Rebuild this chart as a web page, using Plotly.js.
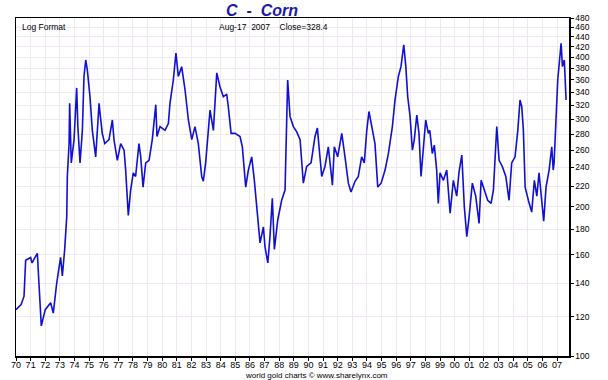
<!DOCTYPE html>
<html>
<head>
<meta charset="utf-8">
<script src="https://cdn.plot.ly/plotly-3.0.1.min.js"></script>
<style>html,body{margin:0;padding:0;background:#fff;}#chart{width:608px;height:380px;}</style>
</head>
<body>
<div id="chart"></div>
<script>
// Decimal year of each reading
const years = [
1970.00,1970.35,1970.55,1970.66,1971.00,1971.10,1971.30,1971.46,1971.57,1971.73,
1972.00,1972.37,1972.55,1972.78,1973.05,1973.17,1973.33,1973.47,1973.51,1973.63,
1973.67,1973.78,1973.97,1974.15,1974.23,1974.38,1974.54,1974.65,1974.77,1974.88,
1975.06,1975.22,1975.45,1975.68,1975.75,1975.90,1976.07,1976.36,1976.59,1976.70,
1976.93,1977.16,1977.39,1977.50,1977.68,1977.84,1978.02,1978.18,1978.41,1978.53,
1978.69,1978.87,1979.10,1979.32,1979.56,1979.64,1979.85,1980.19,1980.42,1980.53,
1980.76,1980.94,1981.10,1981.33,1981.56,1981.79,1982.02,1982.24,1982.47,1982.70,
1982.81,1982.97,1983.27,1983.50,1983.73,1983.95,1984.18,1984.41,1984.52,1984.71,
1984.98,1985.32,1985.48,1985.71,1985.89,1986.12,1986.30,1986.46,1986.69,1986.92,
1987.03,1987.22,1987.37,1987.53,1987.67,1987.90,1988.17,1988.40,1988.58,1988.74,
1988.97,1989.20,1989.43,1989.65,1989.88,1990.18,1990.45,1990.61,1990.91,1991.13,
1991.36,1991.64,1991.77,1992.00,1992.28,1992.50,1992.73,1992.91,1993.19,1993.41,
1993.64,1993.82,1993.99,1994.14,1994.37,1994.55,1994.74,1994.97,1995.24,1995.47,
1995.74,1995.92,1996.15,1996.33,1996.52,1996.66,1996.79,1996.95,1997.11,1997.24,
1997.41,1997.56,1997.70,1997.86,1998.02,1998.20,1998.30,1998.47,1998.61,1998.77,
1998.88,1999.00,1999.23,1999.46,1999.69,1999.91,2000.14,2000.30,2000.49,2000.66,
2000.83,2000.99,2001.21,2001.44,2001.67,2001.81,2002.03,2002.26,2002.49,2002.65,
2002.88,2003.04,2003.26,2003.50,2003.72,2003.90,2004.13,2004.32,2004.47,2004.59,
2004.70,2004.82,2005.04,2005.27,2005.45,2005.62,2005.77,2005.96,2006.09,2006.25,
2006.46,2006.64,2006.74,2006.80,2006.94,2007.05,2007.28,2007.37,2007.50,2007.56,
2007.62
];
// Corn price (cents/bushel) readings
const prices = [
124,127,132,156,158,154,158,161,140,115,
124,128,122,140,158,145,164,191,230,268,
323,245,273,347,290,245,285,366,395,377,
333,285,252,323,308,281,268,273,299,273,
248,268,260,237,192,216,234,230,268,252,
219,245,248,273,321,277,290,285,294,323,
360,408,366,383,344,299,273,290,268,230,
225,245,313,285,372,349,333,337,318,281,
281,277,264,219,237,252,226,203,169,182,
166,154,174,208,164,188,206,216,360,304,
290,283,273,223,241,245,277,288,230,241,
264,221,264,252,281,252,223,214,225,230,
252,245,285,311,285,268,219,223,237,256,
290,328,366,383,424,383,333,304,260,273,
306,281,230,268,299,281,285,256,266,237,
203,234,226,237,194,226,210,235,254,200,
174,191,223,210,185,226,216,206,203,216,
290,248,241,230,206,245,252,285,328,318,
285,219,206,195,226,210,234,200,187,219,
237,264,237,245,308,360,427,383,395,360,
328
];
const yearTicks = [];
const yearLabels = [];
for (let y = 1970; y <= 2007; y++) { yearTicks.push(y); yearLabels.push(String(y).slice(2)); }
const priceTicks = [100,120,140,160,180,200,220,240,260,280,300,320,340,360,380,400,420,440,460,480];

const trace = {
  x: years, y: prices, type: 'scatter', mode: 'lines',
  line: {color: '#1010d0', width: 1.6}, hoverinfo: 'skip'
};
const fontFam = '"Liberation Sans", Arial, sans-serif';
const layout = {
  width: 608, height: 380,
  margin: {l: 16, r: 39, t: 18, b: 24},
  paper_bgcolor: '#ffffff', plot_bgcolor: '#ffffff',
  showlegend: false,
  font: {family: fontFam, size: 9, color: '#000'},
  title: {text: '<b><i>C  -  Corn</i></b>', x: 262/608, xref: 'container', xanchor: 'center',
          y: 1 - 10/380, yref: 'container', yanchor: 'middle',
          font: {family: fontFam, size: 16, color: '#1a1aa8'}},
  xaxis: {
    range: [1970, 2007.82], tickmode: 'array', tickvals: yearTicks, ticktext: yearLabels,
    showgrid: true, gridcolor: '#efe8f2', gridwidth: 1,
    showline: true, linecolor: '#000', linewidth: 1.5, mirror: true,
    ticks: 'outside', ticklen: 3, tickcolor: '#000', tickfont: {size: 9, color: '#000'},
    ticklabelstandoff: -3,
    zeroline: false, fixedrange: true
  },
  yaxis: {
    type: 'log', range: [Math.log10(100), Math.log10(480)], side: 'right',
    tickmode: 'array', tickvals: priceTicks, ticktext: priceTicks.map(String),
    showgrid: true, gridcolor: '#efe8f2', gridwidth: 1,
    showline: true, linecolor: '#000', linewidth: 1.5, mirror: true,
    ticks: 'outside', ticklen: 3, tickcolor: '#000', tickfont: {size: 8.5, color: '#000'},
    zeroline: false, fixedrange: true
  },
  annotations: [
    {text: 'Log Format', xref: 'paper', yref: 'paper', x: 0.008, y: 0.995, xanchor: 'left', yanchor: 'top',
     showarrow: false, font: {size: 8.5, color: '#000'}},
    {text: 'Aug-17  2007    Close=328.4', xref: 'paper', yref: 'paper', x: (217-16)/553, y: 0.995, xanchor: 'left', yanchor: 'top',
     showarrow: false, font: {size: 8.5, color: '#000'}},
    {text: 'world gold charts © www.sharelynx.com', xref: 'paper', yref: 'paper', x: (316-16)/553, y: 0, yshift: -19,
     xanchor: 'center', yanchor: 'middle', showarrow: false, font: {size: 8, color: '#000'}}
  ]
};
Plotly.newPlot('chart', [trace], layout, {displayModeBar: false, staticPlot: true});
</script>
</body>
</html>
